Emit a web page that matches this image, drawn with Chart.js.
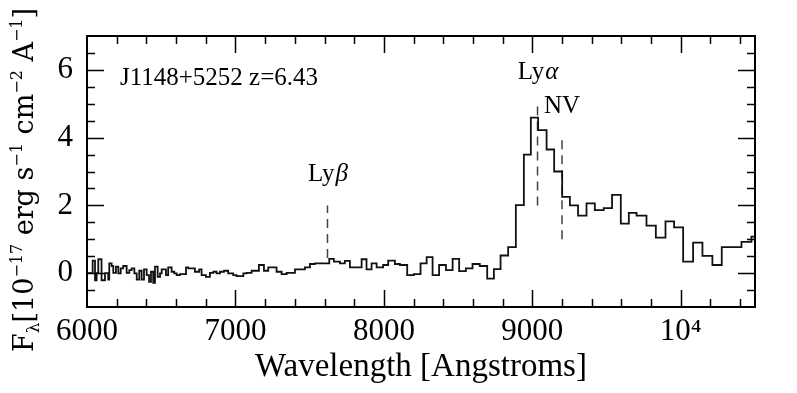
<!DOCTYPE html>
<html>
<head>
<meta charset="utf-8">
<script src="https://cdn.jsdelivr.net/npm/chart.js@4.4.1/dist/chart.umd.min.js"></script>
<style>
  html, body { margin: 0; padding: 0; background: #fff; }
</style>
</head>
<body>
<canvas id="spectrum" width="797" height="393"></canvas>
<script>
// binned spectrum: start wavelength of each bin [Angstrom] and flux [1e-17 erg/s/cm2/A]
const binStart = [
  6000, 6038, 6054, 6065, 6076, 6098, 6121, 6143, 6150, 6166,
  6177, 6195, 6211, 6227, 6244, 6267, 6285, 6301, 6319, 6335,
  6352, 6368, 6384, 6402, 6418, 6431, 6446, 6458, 6476, 6492,
  6503, 6532, 6547, 6570, 6588, 6604, 6626, 6667, 6682, 6727,
  6756, 6772, 6801, 6828, 6851, 6873, 6896, 6923, 6951, 6985,
  7008, 7053, 7075, 7109, 7158, 7192, 7221, 7277, 7311, 7345,
  7401, 7468, 7502, 7535, 7632, 7663, 7704, 7737, 7771, 7850,
  7883, 7917, 7951, 7995, 8029, 8074, 8108, 8157, 8202, 8247,
  8288, 8328, 8372, 8418, 8463, 8507, 8552, 8597, 8646, 8696,
  8741, 8786, 8837, 8889, 8943, 8990, 9039, 9096, 9147, 9201,
  9253, 9308, 9365, 9421, 9481, 9537, 9596, 9650, 9702, 9769,
  9832, 9897, 9955, 10016, 10083, 10146, 10213, 10276, 10409, 10476
];
const flux = [
  0.0, 0.37, -0.21, 0.0, 0.41, -0.21, 0.0, -0.19, 0.29, 0.21,
  0.01, 0.19, -0.01, 0.14, 0.21, 0.01, 0.09, 0.14, -0.01, -0.19,
  0.07, -0.19, 0.11, -0.06, -0.26, 0.04, -0.29, 0.19, -0.11, -0.01,
  0.11, -0.06, 0.17, 0.04, -0.01, -0.06, -0.03, 0.17, 0.14, 0.04,
  0.11, -0.06, -0.11, 0.01, 0.04, -0.01, 0.04, 0.07, -0.01, -0.06,
  -0.09, -0.01, 0.01, 0.07, 0.24, 0.07, 0.17, 0.04, -0.03, 0.01,
  0.11, 0.17, 0.27, 0.29, 0.42, 0.34, 0.29, 0.36, 0.17, 0.41,
  0.11, 0.29, 0.17, 0.24, 0.37, 0.27, 0.24, -0.06, -0.03, 0.29,
  0.47, -0.06, 0.24, 0.09, 0.42, 0.06, 0.14, 0.27, 0.21, -0.16,
  0.12, 0.52, 0.77, 2.01, 3.50, 4.59, 4.22, 3.65, 3.00, 2.25,
  2.00, 1.70, 2.06, 1.86, 1.92, 2.31, 1.46, 1.78, 1.70, 1.40,
  1.05, 1.53, 1.35, 0.34, 0.90, 0.51, 0.24, 0.77, 0.92, 1.08
];
const specEnd = 10500;

// emission line markers (dashed)
const lineNames = ["Ly", "Ly", "NV"];
const lineGreek = ["β", "α", ""];
const lineWave = [7620, 9035, 9200];
const lineLow = [0.45, 2.0, 1.0];
const lineHigh = [2.0, 5.0, 4.0];
const lineLabelY = [3.0, 6.0, 4.98];

const objectText = "J1148+5252 z=6.43";
const objectPos = [6222, 5.82];

const xTicks = [6000, 7000, 8000, 9000, 10000];
const yTicks = [0, 2, 4, 6];

const specPoints = binStart.map((w, i) => ({ x: w, y: flux[i] }));
specPoints.push({ x: specEnd, y: flux[flux.length - 1] });

const datasets = [
  {
    data: specPoints,
    stepped: "before",
    borderColor: "#111",
    borderWidth: 1.8,
    pointRadius: 0,
    fill: false,
  },
];
lineWave.forEach((w, i) => {
  datasets.push({
    data: [{ x: w, y: lineLow[i] }, { x: w, y: lineHigh[i] }],
    borderColor: "#444",
    borderWidth: 1.5,
    borderDash: [9, 6],
    pointRadius: 0,
    fill: false,
  });
});

const tickFont = { family: "Liberation Serif", size: 31 };

// inward ticks on all four sides plus the frame
const frameTicks = {
  id: "frameTicks",
  afterDraw(chart) {
    const { ctx, chartArea: a, scales } = chart;
    const x = scales.x, y = scales.y;
    ctx.save();
    ctx.strokeStyle = "#000";
    ctx.lineWidth = 1.5;
    ctx.beginPath();
    for (let v = 6200; v < specEnd; v += 200) {
      const px = Math.round(x.getPixelForValue(v)) + 0.5;
      const len = v % 1000 === 0 ? 17 : 8;
      ctx.moveTo(px, a.bottom); ctx.lineTo(px, a.bottom - len);
      ctx.moveTo(px, a.top); ctx.lineTo(px, a.top + len);
    }
    for (let v = -0.5; v < 7; v += 0.5) {
      const py = Math.round(y.getPixelForValue(v)) + 0.5;
      const len = v % 2 === 0 ? 17 : 8;
      ctx.moveTo(a.left, py); ctx.lineTo(a.left + len, py);
      ctx.moveTo(a.right, py); ctx.lineTo(a.right - len, py);
    }
    ctx.stroke();
    ctx.lineWidth = 2;
    ctx.strokeRect(a.left, a.top, a.width, a.height);
    ctx.restore();
  },
};

// text labels inside the plot and the y-axis title with sub/superscripts
const textLabels = {
  id: "textLabels",
  afterDraw(chart) {
    const { ctx, scales } = chart;
    const x = scales.x, y = scales.y;
    ctx.save();
    ctx.fillStyle = "#000";
    ctx.textBaseline = "alphabetic";

    ctx.font = "25px 'Liberation Serif'";
    ctx.textAlign = "left";
    ctx.fillText(objectText, x.getPixelForValue(objectPos[0]), y.getPixelForValue(objectPos[1]) + 9);

    lineNames.forEach((name, i) => {
      const cx = x.getPixelForValue(lineWave[i]);
      const cy = y.getPixelForValue(lineLabelY[i]) + 9;
      ctx.font = "25px 'Liberation Serif'";
      const w1 = ctx.measureText(name).width;
      ctx.font = "italic 25px 'Liberation Serif'";
      const w2 = ctx.measureText(lineGreek[i]).width;
      let sx = cx - (w1 + w2) / 2;
      ctx.font = "25px 'Liberation Serif'";
      ctx.fillText(name, sx, cy);
      ctx.font = "italic 25px 'Liberation Serif'";
      ctx.fillText(lineGreek[i], sx + w1 + 1, cy);
    });

    const parts = [
      { t: "F", s: 27, dy: 0 },
      { t: "λ", s: 17, dy: 6 },
      { t: "[10", s: 27, dy: 0 },
      { t: "−17", s: 16, dy: -11 },
      { t: " erg s", s: 27, dy: 0 },
      { t: "−1", s: 16, dy: -11 },
      { t: " cm", s: 27, dy: 0 },
      { t: "−2", s: 16, dy: -11 },
      { t: " A", s: 27, dy: 0 },
      { t: "−1", s: 16, dy: -11 },
      { t: "]", s: 27, dy: 0 },
    ];
    let total = 0;
    parts.forEach((p) => {
      ctx.font = p.s + "px 'DejaVu Serif'";
      p.w = ctx.measureText(p.t).width;
      total += p.w;
    });
    ctx.translate(33, 180);
    ctx.rotate(-Math.PI / 2);
    let px = -total / 2;
    parts.forEach((p) => {
      ctx.font = p.s + "px 'DejaVu Serif'";
      ctx.fillText(p.t, px, p.dy);
      px += p.w;
    });
    ctx.restore();
  },
};

new Chart(document.getElementById("spectrum"), {
  type: "line",
  data: { datasets },
  options: {
    responsive: false,
    animation: false,
    devicePixelRatio: 1,
    layout: { padding: { top: 36, right: 42, left: 0, bottom: 0 } },
    plugins: { legend: { display: false }, tooltip: { enabled: false } },
    scales: {
      x: {
        type: "linear",
        min: 6000,
        max: specEnd,
        afterBuildTicks: (s) => { s.ticks = xTicks.map((v) => ({ value: v })); },
        afterFit: (s) => { s.height = 86; },
        grid: { display: false, drawTicks: false },
        border: { display: false },
        ticks: {
          color: "#000",
          font: tickFont,
          padding: 6,
          maxRotation: 0,
          autoSkip: false,
          callback: (v) => (v === 10000 ? "10⁴" : String(v)),
        },
        title: {
          display: true,
          text: "Wavelength [Angstroms]",
          color: "#000",
          font: { family: "Liberation Serif", size: 33 },
          padding: { top: 0, bottom: 6 },
        },
      },
      y: {
        type: "linear",
        min: -1,
        max: 7,
        afterBuildTicks: (s) => { s.ticks = yTicks.map((v) => ({ value: v })); },
        afterFit: (s) => { s.width = 87; },
        grid: { display: false, drawTicks: false },
        border: { display: false },
        ticks: { color: "#000", font: tickFont, padding: 14 },
      },
    },
  },
  plugins: [frameTicks, textLabels],
});
</script>
</body>
</html>
